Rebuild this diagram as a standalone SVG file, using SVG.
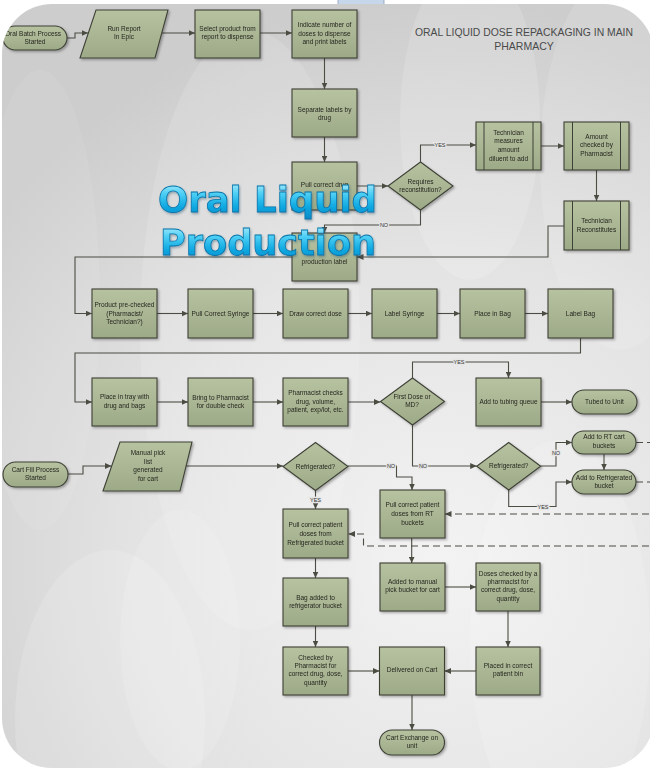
<svg xmlns="http://www.w3.org/2000/svg" width="650" height="770" viewBox="0 0 650 770">
  <defs>
    <radialGradient id="panelFill" cx="440" cy="560" r="560" gradientUnits="userSpaceOnUse">
      <stop offset="0" stop-color="#f3f3f3"/>
      <stop offset="0.55" stop-color="#e3e3e3"/>
      <stop offset="1" stop-color="#cdcdcd"/>
    </radialGradient>
    <linearGradient id="nodeFill" x1="0" y1="0" x2="0" y2="1">
      <stop offset="0" stop-color="#b7c2a1"/>
      <stop offset="1" stop-color="#9daa87"/>
    </linearGradient>
    <linearGradient id="artFill" x1="0" y1="0" x2="0" y2="1">
      <stop offset="0" stop-color="#c9f5ff"/>
      <stop offset="0.35" stop-color="#4fd0f5"/>
      <stop offset="0.65" stop-color="#12abe3"/>
      <stop offset="1" stop-color="#0a88c6"/>
    </linearGradient>
    <clipPath id="panelClip">
      <rect x="2" y="4" width="652" height="764" rx="50"/>
    </clipPath>
    <filter id="shadow" x="-10%" y="-10%" width="130%" height="130%">
      <feDropShadow dx="1.5" dy="1.5" stdDeviation="1" flood-color="#000" flood-opacity="0.3"/>
    </filter>
    <filter id="artShadow" x="-5%" y="-20%" width="115%" height="150%">
      <feDropShadow dx="1" dy="1.5" stdDeviation="1" flood-color="#2c5870" flood-opacity="0.45"/>
    </filter>
    <marker id="arrow" markerUnits="userSpaceOnUse" markerWidth="7" markerHeight="6" refX="6.5" refY="3" orient="auto">
      <path d="M0,0 L6.5,3 L0,6 z" fill="#4b4d43"/>
    </marker>
    <style>
      .box { fill: url(#nodeFill); stroke: #3e4136; stroke-width: 1.1; }
      .inner { fill: none; stroke: #3e4136; stroke-width: 1; }
      .t { font-family: "Liberation Sans", Arial, sans-serif; font-size: 6.5px; fill: #26261f; text-anchor: middle; }
      .c { fill: none; stroke: #4b4d43; stroke-width: 1.1; }
      .dash { stroke-dasharray: 7 4; }
      .lbl { font-family: "Liberation Sans", Arial, sans-serif; font-size: 5.5px; fill: #333; text-anchor: middle; stroke: #e6e6e6; stroke-width: 2.4; paint-order: stroke; }
      .title { font-family: "Liberation Sans", Arial, sans-serif; font-size: 10.5px; fill: #4a4a4a; text-anchor: middle; }
      .art { font-family: "DejaVu Sans", Verdana, sans-serif; font-weight: bold; font-size: 36px; fill: url(#artFill); stroke: #0874aa; stroke-width: 0.8; }
    </style>
  </defs>

  <!-- page -->
  <rect width="650" height="770" fill="#ffffff"/>
  <rect x="338" y="-1" width="46" height="9" fill="#c7d7eb" stroke="#8d9cb2" stroke-width="0.8"/>

  <g clip-path="url(#panelClip)">
    <!-- panel background with soft light shapes -->
    <rect x="2" y="4" width="652" height="764" fill="url(#panelFill)"/>
    <g fill="#ffffff">
      <ellipse cx="250" cy="330" rx="110" ry="300" opacity="0.13"/>
      <ellipse cx="470" cy="120" rx="70" ry="160" opacity="0.15"/>
      <ellipse cx="620" cy="160" rx="80" ry="190" opacity="0.12"/>
      <ellipse cx="110" cy="720" rx="95" ry="170" opacity="0.15"/>
      <ellipse cx="180" cy="640" rx="60" ry="130" opacity="0.12"/>
      <ellipse cx="560" cy="640" rx="90" ry="200" opacity="0.14"/>
      <ellipse cx="40" cy="300" rx="60" ry="230" opacity="0.08"/>
    </g>

    <!-- connectors -->
    <g id="connectors">
      <path class="c" d="M67,38 H75 V33 H88" marker-end="url(#arrow)"/>
      <path class="c" d="M162,33 H195" marker-end="url(#arrow)"/>
      <path class="c" d="M260,33 H292" marker-end="url(#arrow)"/>
      <path class="c" d="M324.5,58 V89" marker-end="url(#arrow)"/>
      <path class="c" d="M324.5,137 V162" marker-end="url(#arrow)"/>
      <path class="c" d="M357,186 H388" marker-end="url(#arrow)"/>
      <path class="c" d="M420.5,162 V145 H476" marker-end="url(#arrow)"/>
      <path class="c" d="M541,146 H564" marker-end="url(#arrow)"/>
      <path class="c" d="M596.5,170 V201" marker-end="url(#arrow)"/>
      <path class="c" d="M420.5,210 V225 H324.5 V233" marker-end="url(#arrow)"/>
      <path class="c" d="M564,226 H548 V257 H357" marker-end="url(#arrow)"/>
      <path class="c" d="M292,257 H75 V313.5 H92" marker-end="url(#arrow)"/>
      <path class="c" d="M157,313.5 H188" marker-end="url(#arrow)"/>
      <path class="c" d="M253,313.5 H283" marker-end="url(#arrow)"/>
      <path class="c" d="M348,313.5 H372" marker-end="url(#arrow)"/>
      <path class="c" d="M437,313.5 H460" marker-end="url(#arrow)"/>
      <path class="c" d="M525,313.5 H548" marker-end="url(#arrow)"/>
      <path class="c" d="M580.5,338 V353 H75 V402 H92" marker-end="url(#arrow)"/>
      <path class="c" d="M157,402 H188" marker-end="url(#arrow)"/>
      <path class="c" d="M253,402 H283" marker-end="url(#arrow)"/>
      <path class="c" d="M348,402 H380.5" marker-end="url(#arrow)"/>
      <path class="c" d="M412.5,378 V362 H508.5 V378" marker-end="url(#arrow)"/>
      <path class="c" d="M541,402 H572" marker-end="url(#arrow)"/>
      <path class="c" d="M68,474 H83 V466 H111.5" marker-end="url(#arrow)"/>
      <path class="c" d="M186,466 H283" marker-end="url(#arrow)"/>
      <path class="c" d="M315.5,490.5 V509" marker-end="url(#arrow)"/>
      <path class="c" d="M348,466 H396.5 V477 H412 V490" marker-end="url(#arrow)"/>
      <path class="c" d="M412.5,425 V466 H476.7" marker-end="url(#arrow)"/>
      <path class="c" d="M540.7,466 H556 V442.5 H572" marker-end="url(#arrow)"/>
      <path class="c" d="M508.7,490 V506.5 H556 V482 H572" marker-end="url(#arrow)"/>
      <path class="c" d="M604,454 V470" marker-end="url(#arrow)"/>
      <path class="c dash" d="M636,442.5 H660"/>
      <path class="c dash" d="M636,482 H660"/>
      <path class="c dash" d="M660,514 H445" marker-end="url(#arrow)"/>
      <path class="c dash" d="M660,546 H363.5 V534 H348.5" marker-end="url(#arrow)"/>
      <path class="c" d="M411.7,538 V563" marker-end="url(#arrow)"/>
      <path class="c" d="M315.5,558 V578" marker-end="url(#arrow)"/>
      <path class="c" d="M315.5,626 V647" marker-end="url(#arrow)"/>
      <path class="c" d="M348,671 H379.5" marker-end="url(#arrow)"/>
      <path class="c" d="M445,587 H476" marker-end="url(#arrow)"/>
      <path class="c" d="M508,611 V647" marker-end="url(#arrow)"/>
      <path class="c" d="M476,671 H444.5" marker-end="url(#arrow)"/>
      <path class="c" d="M412,695 V730" marker-end="url(#arrow)"/>
      <!-- branch labels -->
      <text class="lbl" x="440" y="147">YES</text>
      <text class="lbl" x="384" y="227">NO</text>
      <text class="lbl" x="459" y="364">YES</text>
      <text class="lbl" x="315.5" y="502">YES</text>
      <text class="lbl" x="391" y="468">NO</text>
      <text class="lbl" x="423" y="468">NO</text>
      <text class="lbl" x="556" y="455">NO</text>
      <text class="lbl" x="543" y="508.5">YES</text>
    </g>

    <!-- nodes -->
    <g filter="url(#shadow)">
      <g id="oral-batch-start">
        <rect class="box" x="3" y="26" width="64" height="24" rx="12"/>
        <text class="t" x="33" y="35.8">Oral Batch Process</text>
        <text class="t" x="35" y="44">Started</text>
      </g>
      <g id="run-report">
        <polygon class="box" points="96,10 168,10 155,58 80,58"/>
        <text class="t" x="124" y="30.8">Run Report</text>
        <text class="t" x="124" y="39">In Epic</text>
      </g>
      <g id="select-product">
        <rect class="box" x="195" y="10" width="65" height="48"/>
        <text class="t" x="227.5" y="30.6">Select product from</text>
        <text class="t" x="227.5" y="39">report to dispense</text>
      </g>
      <g id="indicate-doses">
        <rect class="box" x="292" y="10" width="65" height="48"/>
        <text class="t" x="324.5" y="27.3">Indicate number of</text>
        <text class="t" x="324.5" y="35.6">doses to dispense</text>
        <text class="t" x="324.5" y="44">and print labels</text>
      </g>
      <g id="separate-labels">
        <rect class="box" x="292" y="89" width="65" height="48"/>
        <text class="t" x="324.5" y="111.5">Separate labels by</text>
        <text class="t" x="324.5" y="119.8">drug</text>
      </g>
      <g id="pull-drug">
        <rect class="box" x="292" y="162" width="65" height="48"/>
        <text class="t" x="324.5" y="187.3">Pull correct drug</text>
      </g>
      <g id="requires-reconstitution">
        <polygon class="box" points="420.5,162 453,186 420.5,210 388,186"/>
        <text class="t" x="420.5" y="184">Requires</text>
        <text class="t" x="420.5" y="192.3">reconstitution?</text>
      </g>
      <g id="production-label">
        <rect class="box" x="292" y="233" width="65" height="48"/>
        <text class="t" x="324.5" y="264">production label</text>
      </g>
      <g id="measure-diluent">
        <rect class="box" x="476" y="122" width="65" height="48"/>
        <path class="inner" d="M484,122 V170 M533,122 V170"/>
        <text class="t" x="508.5" y="134.6">Technician</text>
        <text class="t" x="508.5" y="143.3">measures</text>
        <text class="t" x="508.5" y="152">amount</text>
        <text class="t" x="508.5" y="160.6">diluent to add</text>
      </g>
      <g id="amount-checked">
        <rect class="box" x="564" y="122" width="65" height="48"/>
        <path class="inner" d="M572.5,122 V170 M620.5,122 V170"/>
        <text class="t" x="596.5" y="139">Amount</text>
        <text class="t" x="596.5" y="147.3">checked by</text>
        <text class="t" x="596.5" y="155.6">Pharmacist</text>
      </g>
      <g id="technician-reconstitutes">
        <rect class="box" x="564" y="201" width="65" height="49"/>
        <path class="inner" d="M572.5,201 V250 M620.5,201 V250"/>
        <text class="t" x="596.5" y="223.3">Technician</text>
        <text class="t" x="596.5" y="232">Reconstitutes</text>
      </g>
      <g id="product-prechecked">
        <rect class="box" x="92" y="289" width="65" height="49"/>
        <text class="t" x="124.5" y="307.3">Product pre-checked</text>
        <text class="t" x="124.5" y="315.6">(Pharmacist/</text>
        <text class="t" x="124.5" y="324">Technician?)</text>
      </g>
      <g id="pull-syringe">
        <rect class="box" x="188" y="289" width="65" height="49"/>
        <text class="t" x="220.5" y="315.6">Pull Correct Syringe</text>
      </g>
      <g id="draw-dose">
        <rect class="box" x="283" y="289" width="65" height="49"/>
        <text class="t" x="315.5" y="315.6">Draw correct dose</text>
      </g>
      <g id="label-syringe">
        <rect class="box" x="372" y="289" width="65" height="49"/>
        <text class="t" x="404.5" y="315.6">Label Syringe</text>
      </g>
      <g id="place-in-bag">
        <rect class="box" x="460" y="289" width="65" height="49"/>
        <text class="t" x="492.5" y="315.6">Place in Bag</text>
      </g>
      <g id="label-bag">
        <rect class="box" x="548" y="289" width="65" height="49"/>
        <text class="t" x="580.5" y="315.6">Label Bag</text>
      </g>
      <g id="place-in-tray">
        <rect class="box" x="92" y="378" width="65" height="48"/>
        <text class="t" x="124.5" y="399">Place in tray with</text>
        <text class="t" x="124.5" y="408">drug and bags</text>
      </g>
      <g id="bring-to-pharmacist">
        <rect class="box" x="188" y="378" width="65" height="48"/>
        <text class="t" x="220.5" y="399.6">Bring to Pharmacist</text>
        <text class="t" x="220.5" y="408">for double check</text>
      </g>
      <g id="pharmacist-checks">
        <rect class="box" x="283" y="378" width="65" height="48"/>
        <text class="t" x="315.5" y="395">Pharmacist checks</text>
        <text class="t" x="315.5" y="404">drug, volume,</text>
        <text class="t" x="315.5" y="412.3">patient, exp/lot, etc.</text>
      </g>
      <g id="first-dose">
        <polygon class="box" points="412.5,378 444.5,401.5 412.5,425 380.5,401.5"/>
        <text class="t" x="412" y="399">First Dose or</text>
        <text class="t" x="412" y="407.3">MD?</text>
      </g>
      <g id="tubing-queue">
        <rect class="box" x="476" y="378" width="65" height="48"/>
        <text class="t" x="508.5" y="404">Add to tubing queue</text>
      </g>
      <g id="tubed-to-unit">
        <rect class="box" x="572" y="390" width="65" height="24" rx="12"/>
        <text class="t" x="604.5" y="404.2">Tubed to Unit</text>
      </g>
      <g id="cart-fill-start">
        <rect class="box" x="3" y="462" width="65" height="25" rx="12.5"/>
        <text class="t" x="35.5" y="471.6">Cart Fill Process</text>
        <text class="t" x="35.5" y="479.6">Started</text>
      </g>
      <g id="manual-pick-list">
        <polygon class="box" points="120,442 192,442 180,491 103,491"/>
        <text class="t" x="148" y="455.3">Manual pick</text>
        <text class="t" x="148" y="464">list</text>
        <text class="t" x="148" y="472.3">generated</text>
        <text class="t" x="148" y="480.6">for cart</text>
      </g>
      <g id="refrigerated-1">
        <polygon class="box" points="315.5,442.5 348,466.5 315.5,490.5 283,466.5"/>
        <text class="t" x="315.5" y="468.5">Refrigerated?</text>
      </g>
      <g id="pull-rt-buckets">
        <rect class="box" x="380" y="490" width="65" height="48"/>
        <text class="t" x="412.5" y="507.3">Pull correct patient</text>
        <text class="t" x="412.5" y="516.3">doses from RT</text>
        <text class="t" x="412.5" y="525">buckets</text>
      </g>
      <g id="refrigerated-2">
        <polygon class="box" points="508.7,442.5 540.7,466.3 508.7,490 476.7,466.3"/>
        <text class="t" x="508.7" y="468.3">Refrigerated?</text>
      </g>
      <g id="add-rt-cart">
        <rect class="box" x="572" y="431" width="64" height="23" rx="11.5"/>
        <text class="t" x="604" y="439">Add to RT cart</text>
        <text class="t" x="604" y="448">buckets</text>
      </g>
      <g id="add-refrigerated">
        <rect class="box" x="572" y="470" width="64" height="24" rx="12"/>
        <text class="t" x="604" y="479.6">Add to Refrigerated</text>
        <text class="t" x="604" y="488.3">bucket</text>
      </g>
      <g id="pull-refrigerated-bucket">
        <rect class="box" x="283" y="509" width="65" height="49"/>
        <text class="t" x="315.5" y="527.3">Pull correct patient</text>
        <text class="t" x="315.5" y="535.6">doses from</text>
        <text class="t" x="315.5" y="544.6">Refrigerated bucket</text>
      </g>
      <g id="bag-added">
        <rect class="box" x="283" y="578" width="65" height="48"/>
        <text class="t" x="315.5" y="600">Bag added to</text>
        <text class="t" x="315.5" y="608.3">refrigerator bucket</text>
      </g>
      <g id="checked-by-pharmacist">
        <rect class="box" x="283" y="647" width="65" height="48"/>
        <text class="t" x="315.5" y="659.6">Checked by</text>
        <text class="t" x="315.5" y="668">Pharmacist for</text>
        <text class="t" x="315.5" y="676.3">correct drug, dose,</text>
        <text class="t" x="315.5" y="684.6">quantity</text>
      </g>
      <g id="delivered-on-cart">
        <rect class="box" x="379.5" y="647" width="65" height="48"/>
        <text class="t" x="412" y="672.3">Delivered on Cart</text>
      </g>
      <g id="added-manual-pick">
        <rect class="box" x="380" y="563" width="65" height="48"/>
        <text class="t" x="412.5" y="584">Added to manual</text>
        <text class="t" x="412.5" y="592.3">pick bucket for cart</text>
      </g>
      <g id="doses-checked">
        <rect class="box" x="476" y="563" width="64" height="48"/>
        <text class="t" x="508" y="575.6">Doses checked by a</text>
        <text class="t" x="508" y="584">pharmacist for</text>
        <text class="t" x="508" y="592.3">correct drug, dose,</text>
        <text class="t" x="508" y="600.6">quantity</text>
      </g>
      <g id="placed-in-bin">
        <rect class="box" x="476" y="647" width="64" height="48"/>
        <text class="t" x="508" y="668">Placed in correct</text>
        <text class="t" x="508" y="676.3">patient bin</text>
      </g>
      <g id="cart-exchange">
        <rect class="box" x="379.5" y="730" width="65" height="25" rx="12.5"/>
        <text class="t" x="412" y="740">Cart Exchange on</text>
        <text class="t" x="412" y="748.3">unit</text>
      </g>
    </g>

    <!-- heading -->
    <g id="heading">
      <text class="title" x="524" y="36" textLength="218" lengthAdjust="spacingAndGlyphs">ORAL LIQUID DOSE REPACKAGING IN MAIN</text>
      <text class="title" x="524" y="50">PHARMACY</text>
    </g>

    <!-- overlay caption -->
    <g id="caption" filter="url(#artShadow)">
      <text class="art" x="158" y="212" textLength="219" lengthAdjust="spacingAndGlyphs">Oral Liquid</text>
      <text class="art" x="160" y="255" textLength="216" lengthAdjust="spacingAndGlyphs">Production</text>
    </g>
  </g>
</svg>
